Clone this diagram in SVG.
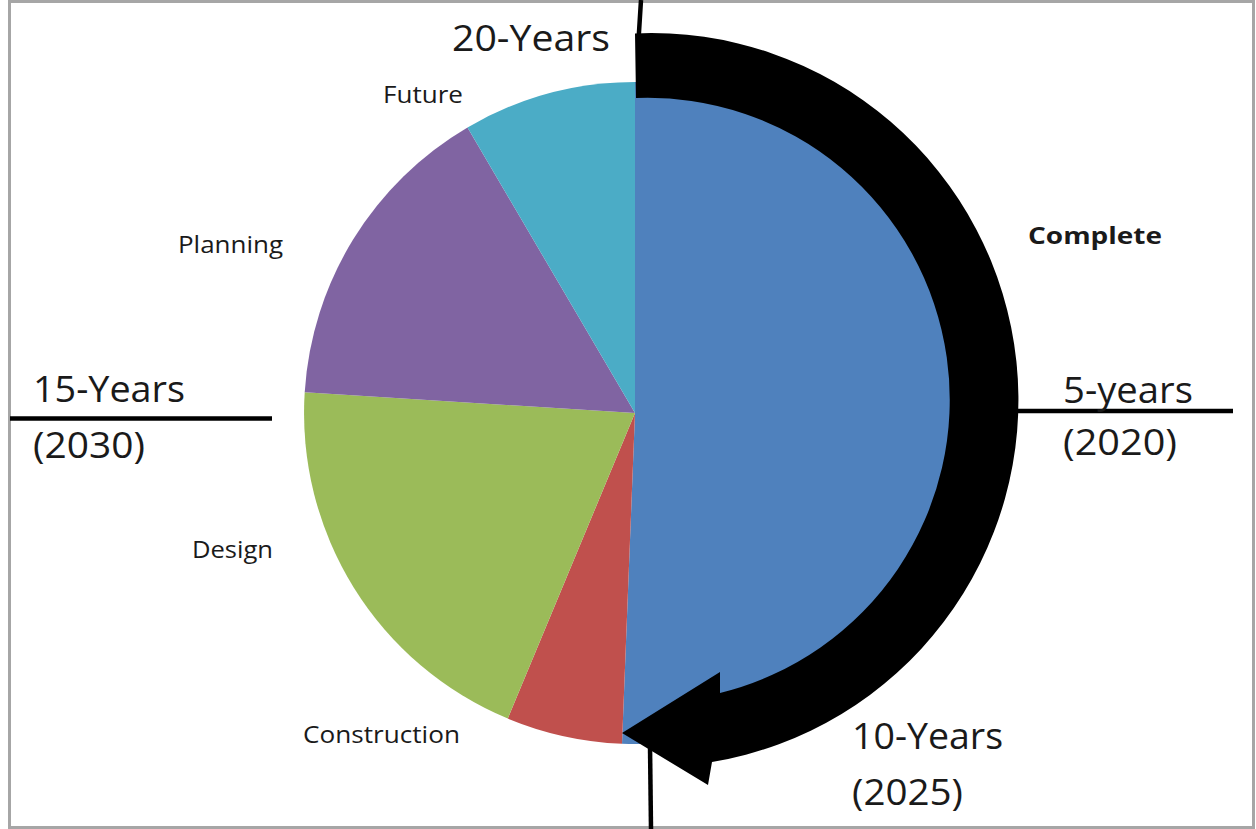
<svg xmlns="http://www.w3.org/2000/svg" width="1256" height="829" viewBox="0 0 1256 829">
  <style>
    .lbl { font-family: "Open Sans", "Liberation Sans", sans-serif; fill: #1a1a1a; }
    .big { font-size: 36px; }
    .small { font-size: 23px; }
    .bold { font-weight: bold; }
    .axis { stroke: #000; stroke-width: 4.5; fill: none; }
  </style>
  <rect x="0" y="0" width="1256" height="829" fill="#ffffff"/>
  <rect id="frame" x="9.5" y="1.5" width="1244" height="826" fill="none" stroke="#a6a6a6" stroke-width="3"/>

  <g id="connectors">
    <line class="axis" x1="641" y1="0" x2="638.5" y2="40"/>
    <line class="axis" x1="650" y1="745" x2="651" y2="829"/>
    <line class="axis" x1="10" y1="418.5" x2="272" y2="418.5"/>
    <line class="axis" x1="1018" y1="411" x2="1233" y2="411"/>
  </g>

  <g id="pie">
    <path id="slice-complete" d="M635 413 L635 82 A331 331 0 1 1 622 743.7 Z" fill="#4F81BD"/>
    <path id="slice-construction" d="M635 413 L622 743.7 A331 331 0 0 1 507.8 718.6 Z" fill="#C0504D"/>
    <path id="slice-design" d="M635 413 L507.8 718.6 A331 331 0 0 1 304.7 392.2 Z" fill="#9BBB59"/>
    <path id="slice-planning" d="M635 413 L304.7 392.2 A331 331 0 0 1 467.5 127.5 Z" fill="#8064A2"/>
    <path id="slice-future" d="M635 413 L467.5 127.5 A331 331 0 0 1 635 82 Z" fill="#4BACC6"/>
  </g>

  <g id="progress-arrow">
    <path d="M635 33.4 A367 367 0 0 1 712 762 L708 785 L622 733 L720 672 L720 693 A302 302 0 0 0 636 98 Z" fill="#000"/>
  </g>

  <g id="label-20">
    <text class="lbl big" x="452" y="51" font-size="34" textLength="158" lengthAdjust="spacingAndGlyphs">20-Years</text>
  </g>
  <g id="label-15">
    <text class="lbl big" x="33" y="402" textLength="152" lengthAdjust="spacingAndGlyphs">15-Years</text>
    <text class="lbl big" x="33" y="458" textLength="112" lengthAdjust="spacingAndGlyphs">(2030)</text>
  </g>
  <g id="label-5">
    <text class="lbl big" x="1063" y="403" textLength="130" lengthAdjust="spacingAndGlyphs">5-years</text>
    <text class="lbl big" x="1063" y="455" textLength="114" lengthAdjust="spacingAndGlyphs">(2020)</text>
  </g>
  <g id="label-10">
    <text class="lbl big" x="852" y="749" textLength="151" lengthAdjust="spacingAndGlyphs">10-Years</text>
    <text class="lbl big" x="852" y="805" textLength="111" lengthAdjust="spacingAndGlyphs">(2025)</text>
  </g>
  <g id="label-future">
    <text class="lbl small" x="383" y="103" textLength="80" lengthAdjust="spacingAndGlyphs">Future</text>
  </g>
  <g id="label-planning">
    <text class="lbl small" x="178" y="253" textLength="105" lengthAdjust="spacingAndGlyphs">Planning</text>
  </g>
  <g id="label-complete">
    <text class="lbl small bold" x="1028" y="244" textLength="134" lengthAdjust="spacingAndGlyphs">Complete</text>
  </g>
  <g id="label-design">
    <text class="lbl small" x="192" y="558" textLength="81" lengthAdjust="spacingAndGlyphs">Design</text>
  </g>
  <g id="label-construction">
    <text class="lbl small" x="303" y="743" textLength="157" lengthAdjust="spacingAndGlyphs">Construction</text>
  </g>
</svg>
